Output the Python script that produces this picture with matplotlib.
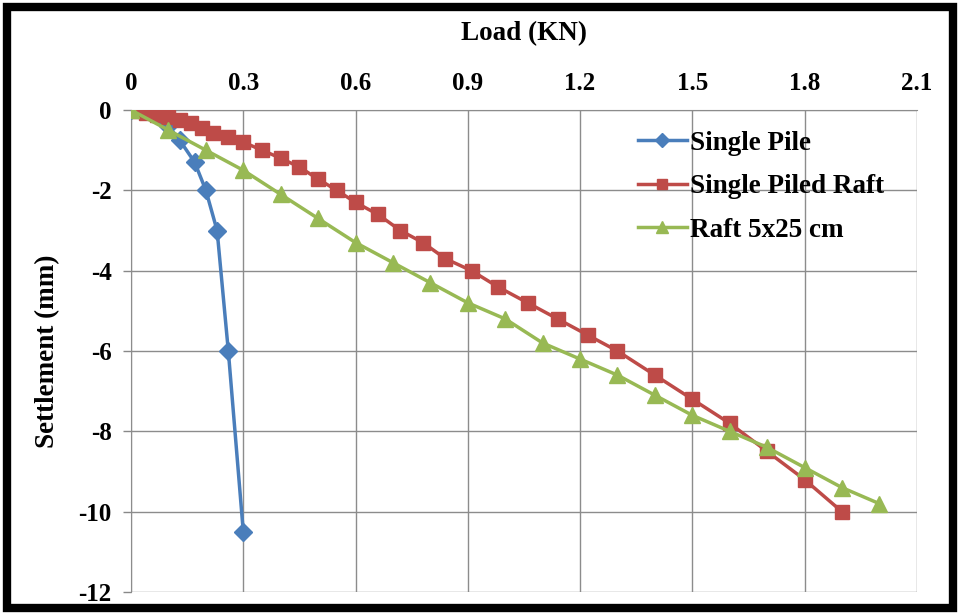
import matplotlib
matplotlib.use("Agg")
import matplotlib.pyplot as plt
from matplotlib.patches import Rectangle

# Data
pile_load = [0, 0.1, 0.13, 0.17, 0.2, 0.23, 0.26, 0.3]
pile_settle = [0, -0.4, -0.75, -1.3, -2.0, -3.0, -6.0, -10.5]

raft_pile_load = [0, 0.02, 0.04, 0.07, 0.1, 0.13, 0.16, 0.19, 0.22, 0.26, 0.3, 0.35, 0.4,
                  0.45, 0.5, 0.55, 0.6, 0.66, 0.72, 0.78, 0.84, 0.91, 0.98, 1.06, 1.14,
                  1.22, 1.3, 1.4, 1.5, 1.6, 1.7, 1.8, 1.9]
raft_pile_settle = [0, -0.03, -0.07, -0.12, -0.18, -0.25, -0.33, -0.45, -0.57, -0.67, -0.8,
                    -1.0, -1.2, -1.42, -1.72, -2.0, -2.3, -2.6, -3.0, -3.3, -3.7, -4.0,
                    -4.4, -4.8, -5.2, -5.6, -6.0, -6.6, -7.2, -7.8, -8.5, -9.2, -10.0]

raft_load = [0, 0.1, 0.2, 0.3, 0.4, 0.5, 0.6, 0.7, 0.8, 0.9, 1.0, 1.1, 1.2, 1.3, 1.4, 1.5,
             1.6, 1.7, 1.8, 1.9, 2.0]
raft_settle = [0, -0.5, -1.0, -1.5, -2.1, -2.7, -3.3, -3.8, -4.3, -4.8, -5.2, -5.8, -6.2,
               -6.6, -7.1, -7.6, -8.0, -8.4, -8.9, -9.4, -9.8]

x_ticks = [0, 0.3, 0.6, 0.9, 1.2, 1.5, 1.8, 2.1]
x_ticklabels = ["0", "0.3", "0.6", "0.9", "1.2", "1.5", "1.8", "2.1"]
y_ticks = [0, -2, -4, -6, -8, -10, -12]
y_ticklabels = ["0", "-2", "-4", "-6", "-8", "-10", "-12"]

plt.rcParams['font.family'] = ['Liberation Serif', 'DejaVu Serif']
plt.rcParams['font.weight'] = 'bold'

fig = plt.figure(figsize=(9.6, 6.14), dpi=100)
ax = fig.add_axes([0.1365, 0.0358, 0.955 - 0.1365, 0.8208 - 0.0358])

blue = '#4A7EBB'
red = '#BE4B48'
green = '#98B954'

ax.plot(pile_load, pile_settle, color=blue, lw=2.5, marker='D', ms=9, label='Single Pile', zorder=3)
ax.plot(raft_pile_load, raft_pile_settle, color=red, lw=2.5, marker='s', ms=10.5, label='Single Piled Raft', zorder=3)
ax.plot(raft_load, raft_settle, color=green, lw=2.5, marker='^', ms=11, label='Raft 5x25 cm', zorder=4)

ax.set_xlim(0, 2.1)
ax.set_ylim(-12, 0)
ax.xaxis.tick_top()
ax.xaxis.set_label_position('top')
ax.set_xticks(x_ticks)
ax.set_xticklabels(x_ticklabels)
ax.set_yticks(y_ticks)
ax.set_yticklabels(y_ticklabels)
ax.tick_params(axis='x', length=0, pad=11, labelsize=18)
ax.tick_params(axis='y', length=6, color='#888888', width=1, pad=8, labelsize=18)
ax.set_xlabel('Load (KN)', fontsize=19.5, fontweight='bold', labelpad=23)
ax.set_ylabel('Settlement (mm)', fontsize=19.5, fontweight='bold', labelpad=13)

ax.grid(True, color='#8c8c8c', lw=1)
ax.set_axisbelow(True)
for side in ['right', 'bottom']:
    ax.spines[side].set_visible(False)
ax.spines['left'].set_color('#8c8c8c')
ax.spines['top'].set_color('#8c8c8c')

leg = ax.legend(loc='upper left', bbox_to_anchor=(0.645, 0.957), frameon=False,
                prop={'size': 19.5, 'weight': 'bold'}, handlelength=1.8, handletextpad=0.12,
                labelspacing=0.68, borderaxespad=0, borderpad=0, markerscale=0.75)

fig.patches.append(Rectangle((0.007, 0.010), 0.986, 0.978, transform=fig.transFigure,
                             fill=False, edgecolor='black', lw=6))

fig.savefig('out.png', dpi=100)
